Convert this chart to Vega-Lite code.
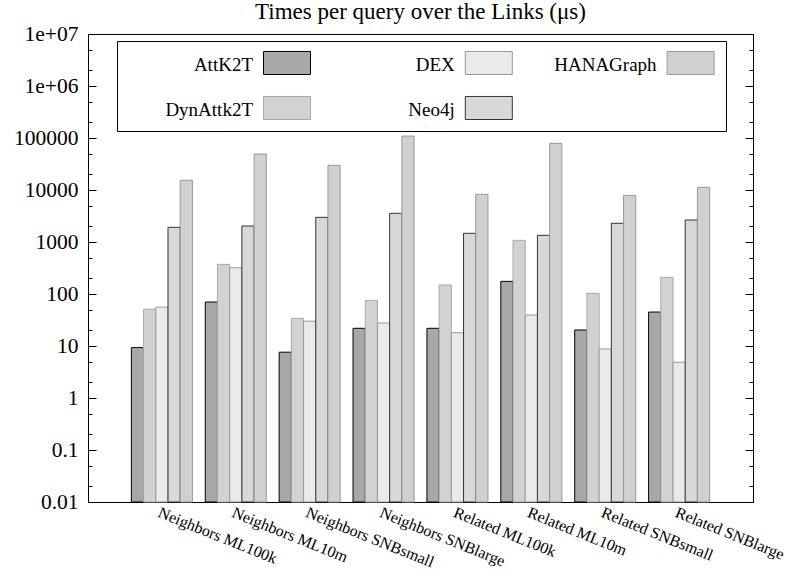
{
  "$schema": "https://vega.github.io/schema/vega-lite/v6.json",
  "description": "Times per query over the Links, five systems, log scale",
  "width": 665,
  "height": 468,
  "autosize": {"type": "none"},
  "padding": {"left": 88, "top": 34, "right": 36, "bottom": 69},
  "background": "white",
  "title": {
    "text": "Times per query over the Links (μs)",
    "font": "Liberation Serif",
    "fontSize": 23,
    "fontWeight": "normal",
    "color": "black",
    "anchor": "middle",
    "baseline": "alphabetic",
    "offset": 4,
    "dy": 22.5
  },
  "data": {
    "values": [
      {"query": "Neighbors ML100k", "system": "AttK2T", "time": 9.3},
      {"query": "Neighbors ML100k", "system": "DynAttk2T", "time": 51},
      {"query": "Neighbors ML100k", "system": "DEX", "time": 56},
      {"query": "Neighbors ML100k", "system": "Neo4j", "time": 1915},
      {"query": "Neighbors ML100k", "system": "HANAGraph", "time": 15400},
      {"query": "Neighbors ML10m", "system": "AttK2T", "time": 70},
      {"query": "Neighbors ML10m", "system": "DynAttk2T", "time": 372},
      {"query": "Neighbors ML10m", "system": "DEX", "time": 320},
      {"query": "Neighbors ML10m", "system": "Neo4j", "time": 2030},
      {"query": "Neighbors ML10m", "system": "HANAGraph", "time": 49200},
      {"query": "Neighbors SNBsmall", "system": "AttK2T", "time": 7.6},
      {"query": "Neighbors SNBsmall", "system": "DynAttk2T", "time": 34},
      {"query": "Neighbors SNBsmall", "system": "DEX", "time": 30},
      {"query": "Neighbors SNBsmall", "system": "Neo4j", "time": 2980},
      {"query": "Neighbors SNBsmall", "system": "HANAGraph", "time": 29800},
      {"query": "Neighbors SNBlarge", "system": "AttK2T", "time": 21.9},
      {"query": "Neighbors SNBlarge", "system": "DynAttk2T", "time": 75.5},
      {"query": "Neighbors SNBlarge", "system": "DEX", "time": 27.7},
      {"query": "Neighbors SNBlarge", "system": "Neo4j", "time": 3560},
      {"query": "Neighbors SNBlarge", "system": "HANAGraph", "time": 109000},
      {"query": "Related ML100k", "system": "AttK2T", "time": 21.9},
      {"query": "Related ML100k", "system": "DynAttk2T", "time": 149},
      {"query": "Related ML100k", "system": "DEX", "time": 18},
      {"query": "Related ML100k", "system": "Neo4j", "time": 1470},
      {"query": "Related ML100k", "system": "HANAGraph", "time": 8260},
      {"query": "Related ML10m", "system": "AttK2T", "time": 175},
      {"query": "Related ML10m", "system": "DynAttk2T", "time": 1077},
      {"query": "Related ML10m", "system": "DEX", "time": 39.5},
      {"query": "Related ML10m", "system": "Neo4j", "time": 1343},
      {"query": "Related ML10m", "system": "HANAGraph", "time": 78900},
      {"query": "Related SNBsmall", "system": "AttK2T", "time": 20.3},
      {"query": "Related SNBsmall", "system": "DynAttk2T", "time": 103},
      {"query": "Related SNBsmall", "system": "DEX", "time": 8.75},
      {"query": "Related SNBsmall", "system": "Neo4j", "time": 2290},
      {"query": "Related SNBsmall", "system": "HANAGraph", "time": 7880},
      {"query": "Related SNBlarge", "system": "AttK2T", "time": 45},
      {"query": "Related SNBlarge", "system": "DynAttk2T", "time": 209},
      {"query": "Related SNBlarge", "system": "DEX", "time": 4.86},
      {"query": "Related SNBlarge", "system": "Neo4j", "time": 2650},
      {"query": "Related SNBlarge", "system": "HANAGraph", "time": 11250}
    ]
  },
  "layer": [
    {
      "mark": {"type": "bar", "strokeWidth": 1, "opacity": 1},
      "encoding": {
        "x": {
          "field": "query",
          "type": "nominal",
          "sort": null,
          "title": null,
          "scale": {"paddingInner": 0.174, "paddingOuter": 0.587},
          "axis": {
            "ticks": false,
            "labelAngle": 22,
            "labelAlign": "left",
            "labelBaseline": "top",
            "labelPadding": 2,
            "labelFont": "Liberation Serif",
            "labelFontSize": 16,
            "labelColor": "black",
            "labelOverlap": false,
            "labelLimit": 0,
            "domainColor": "black",
            "domainWidth": 1
          }
        },
        "xOffset": {
          "field": "system",
          "type": "nominal",
          "scale": {
            "domain": ["AttK2T", "DynAttk2T", "DEX", "Neo4j", "HANAGraph"],
            "paddingInner": 0,
            "paddingOuter": 0
          }
        },
        "y": {
          "field": "time",
          "type": "quantitative",
          "title": null,
          "scale": {"type": "log", "domain": [0.01, 10000000], "nice": false},
          "axis": {
            "orient": "left",
            "values": [0.01, 0.02, 0.05, 0.1, 0.2, 0.5, 1, 2, 5, 10, 20, 50, 100, 200, 500, 1000, 2000, 5000, 10000, 20000, 50000, 100000, 200000, 500000, 1000000, 2000000, 5000000, 10000000],
            "labelExpr": "datum.value == 10000000 ? '1e+07' : datum.value == 1000000 ? '1e+06' : indexof([0.01, 0.1, 1, 10, 100, 1000, 10000, 100000], datum.value) >= 0 ? toString(datum.value) : ''",
            "tickSize": {"condition": {"test": "indexof([0.01, 0.1, 1, 10, 100, 1000, 10000, 100000, 1000000, 10000000], datum.value) >= 0", "value": -8}, "value": -4},
            "tickColor": "black",
            "tickWidth": 1,
            "labelPadding": 18,
            "labelFont": "Liberation Serif",
            "labelFontSize": 21.5,
            "labelColor": "black",
            "labelOverlap": false,
            "labelFlush": false,
            "labelBaseline": "middle",
            "grid": false,
            "domainColor": "black",
            "domainWidth": 1
          }
        },
        "y2": {"datum": 0.01},
        "fill": {
          "field": "system",
          "type": "nominal",
          "scale": {
            "domain": ["AttK2T", "DEX", "HANAGraph", "DynAttk2T", "Neo4j"],
            "range": ["#a8a8a8", "#eaeaea", "#d0d0d0", "#d2d2d2", "#d8d8d8"]
          },
          "legend": {
            "orient": "none",
            "legendX": 29,
            "legendY": 7,
            "columns": 3,
            "direction": "horizontal",
            "gridAlign": "all",
            "columnPadding": 38.8,
            "rowPadding": 17,
            "padding": 9.5,
            "strokeColor": "black",
            "fillColor": "white",
            "title": "\u00a0",
            "titleOrient": "left",
            "titleFont": "Liberation Serif",
            "titleFontSize": 19,
            "titleOpacity": 0,
            "titlePadding": 136.5,
            "symbolType": "M-1,-0.98H1V0H-1Z",
            "symbolSize": 2209,
            "symbolStrokeWidth": 1,
            "symbolOpacity": 1,
            "labelAlign": "right",
            "labelBaseline": "bottom",
            "labelOffset": -58,
            "labelFont": "Liberation Serif",
            "labelFontSize": 19,
            "labelColor": "black",
            "labelLimit": 0
          }
        },
        "stroke": {
          "field": "system",
          "type": "nominal",
          "scale": {
            "domain": ["AttK2T", "DEX", "HANAGraph", "DynAttk2T", "Neo4j"],
            "range": ["#000000", "#999999", "#999999", "#a8a8a8", "#333333"]
          }
        }
      }
    },
    {
      "mark": {"type": "rule", "strokeOpacity": 0},
      "encoding": {
        "y": {
          "datum": 1,
          "type": "quantitative",
          "axis": {
            "orient": "right",
            "title": null,
            "labels": false,
            "values": [0.01, 0.02, 0.05, 0.1, 0.2, 0.5, 1, 2, 5, 10, 20, 50, 100, 200, 500, 1000, 2000, 5000, 10000, 20000, 50000, 100000, 200000, 500000, 1000000, 2000000, 5000000, 10000000],
            "tickSize": {"condition": {"test": "indexof([0.01, 0.1, 1, 10, 100, 1000, 10000, 100000, 1000000, 10000000], datum.value) >= 0", "value": -8}, "value": -4},
            "tickColor": "black",
            "tickWidth": 1,
            "grid": false,
            "domainColor": "black",
            "domainWidth": 1
          }
        }
      }
    }
  ],
  "resolve": {"axis": {"y": "independent"}},
  "config": {
    "view": {"stroke": "black", "strokeWidth": 1},
    "font": "Liberation Serif"
  }
}
